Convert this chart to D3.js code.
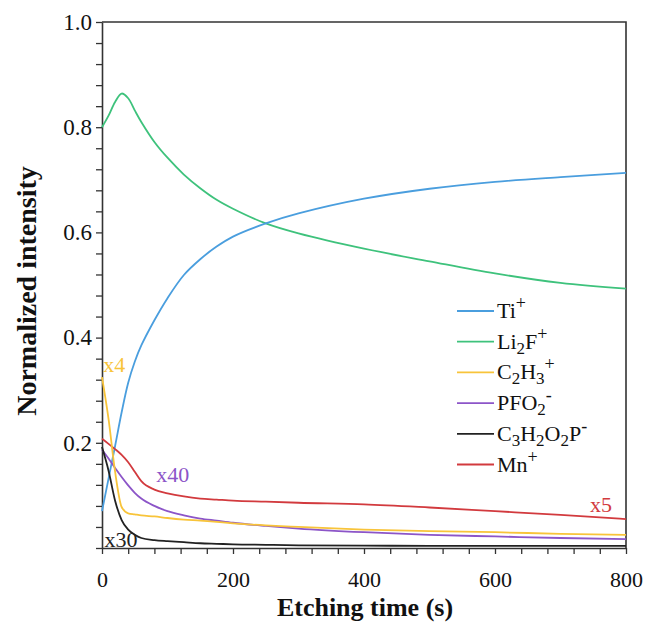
<!DOCTYPE html>
<html>
<head>
<meta charset="utf-8">
<script src="https://cdn.jsdelivr.net/npm/d3@7"></script>
<style>
  html, body { margin: 0; padding: 0; background: #fff; }
  svg { display: block; font-family: "Liberation Serif", "Times New Roman", serif; }
  svg text { font-family: "Liberation Serif", "Times New Roman", serif; }
</style>
</head>
<body>
<svg id="chart" width="648" height="626"></svg>
<script>
// ---- data ----
const times = [0, 10, 20, 30, 40, 50, 60, 80, 100, 125, 150, 175, 200, 250, 300, 400, 500, 600, 700, 800];
const tiPlus   = [0.070, 0.132, 0.194, 0.258, 0.314, 0.354, 0.385, 0.433, 0.475, 0.519, 0.549, 0.573, 0.592, 0.617, 0.636, 0.664, 0.683, 0.696, 0.705, 0.713];
const li2fPlus = [0.800, 0.822, 0.848, 0.864, 0.855, 0.832, 0.810, 0.772, 0.742, 0.710, 0.684, 0.662, 0.645, 0.617, 0.598, 0.569, 0.545, 0.522, 0.504, 0.493];
const c2h3Plus = [0.325, 0.245, 0.145, 0.078, 0.066, 0.064, 0.062, 0.060, 0.057, 0.054, 0.052, 0.0495, 0.047, 0.043, 0.040, 0.035, 0.032, 0.030, 0.027, 0.025];
const pfo2Minus = [0.187, 0.170, 0.152, 0.135, 0.119, 0.105, 0.094, 0.080, 0.070, 0.062, 0.056, 0.052, 0.048, 0.042, 0.037, 0.030, 0.025, 0.022, 0.019, 0.017];
const c3h2o2pMinus = [0.192, 0.147, 0.090, 0.053, 0.035, 0.025, 0.019, 0.015, 0.013, 0.011, 0.009, 0.008, 0.007, 0.006, 0.005, 0.0045, 0.004, 0.004, 0.004, 0.004];
const mnPlus   = [0.208, 0.198, 0.188, 0.177, 0.163, 0.145, 0.127, 0.111, 0.104, 0.098, 0.094, 0.092, 0.090, 0.088, 0.086, 0.083, 0.077, 0.070, 0.063, 0.055];

const seriesNames = ["Ti^+", "Li_2F^+", "C_2H_3^+", "PFO_2^-", "C_3H_2O_2P^-", "Mn^+"];
const seriesValues = [tiPlus, li2fPlus, c2h3Plus, pfo2Minus, c3h2o2pMinus, mnPlus];
const seriesColors = ["#4a9ede", "#3ec27c", "#f8c43a", "#8c55c8", "#222222", "#d23a3e"];

const xTickValues = d3.range(0, 801, 40);
const xTickLabels = [0, 200, 400, 600, 800];
const yTickValues = d3.range(0, 25 + 1).map(i => +(i * 0.04).toFixed(2));
const yTickLabels = [0.2, 0.4, 0.6, 0.8, 1.0];

const annotations = [
  { text: "x4",  t: 2,   v: 0.335, color: "#f8c43a" },
  { text: "x40", t: 83,  v: 0.126, color: "#8c55c8" },
  { text: "x30", t: 4,   v: 0.002, color: "#222222" },
  { text: "x5",  t: 745, v: 0.069, color: "#d23a3e" }
];

// ---- layout ----
const FONT = "'Liberation Serif', 'Times New Roman', serif";
const svg = d3.select("#chart");
const x = d3.scaleLinear().domain([0, 800]).range([102, 626]);
const y = d3.scaleLinear().domain([0, 1]).range([548, 22]);

// frame (top & right)
svg.append("path")
  .attr("d", `M${x(0)},${y(1)}H${x(800)}V${y(0)}`)
  .attr("fill", "none").attr("stroke", "#333").attr("stroke-width", 1.6);

// axes
const xAxis = d3.axisBottom(x)
  .tickValues(xTickValues)
  .tickSize(6).tickSizeOuter(0).tickPadding(17)
  .tickFormat(d => xTickLabels.includes(d) ? d3.format("d")(d) : "");
const gx = svg.append("g").attr("transform", `translate(0,${y(0)})`).call(xAxis);

const yAxis = d3.axisLeft(y)
  .tickValues(yTickValues)
  .tickSize(6).tickSizeOuter(0).tickPadding(4)
  .tickFormat(d => yTickLabels.some(l => Math.abs(l - d) < 1e-6) ? d3.format(".1f")(d) : "");
const gy = svg.append("g").attr("transform", `translate(${x(0)},0)`).call(yAxis);

[[gx, 22], [gy, 23]].forEach(([g, fs]) => {
  g.attr("font-family", FONT).attr("font-size", fs);
  g.selectAll(".domain").attr("stroke", "#333").attr("stroke-width", 1.6);
  g.selectAll(".tick line").attr("stroke", "#333").attr("stroke-width", 1.3);
  g.selectAll(".tick text")
    .attr("fill", "#111")
    .style("font-family", FONT)
    .style("font-size", fs + "px");
});

// axis titles
svg.append("text")
  .attr("x", 365).attr("y", 616)
  .attr("text-anchor", "middle")
  .style("font-family", FONT)
  .style("font-weight", "bold").style("font-size", "26px").attr("fill", "#111")
  .text("Etching time (s)");

svg.append("text")
  .attr("transform", "translate(36,291) rotate(-90)")
  .attr("text-anchor", "middle")
  .style("font-family", FONT)
  .style("font-weight", "bold").style("font-size", "28px").attr("fill", "#111")
  .text("Normalized intensity");

// lines
const smoothLine = d3.line()
  .x(d => x(d[0]))
  .y(d => y(d[1]))
  .curve(d3.curveCatmullRom.alpha(0.5));
const kneeLine = d3.line()
  .x(d => x(d[0]))
  .y(d => y(d[1]))
  .curve(d3.curveMonotoneX);

const drawOrder = [1, 0, 5, 3, 2, 4];
drawOrder.forEach(i => {
  const pts = times.map((t, k) => [t, seriesValues[i][k]]);
  svg.append("path")
    .datum(pts)
    .attr("d", (i === 0 || i === 1) ? smoothLine : kneeLine)
    .attr("fill", "none")
    .attr("stroke", seriesColors[i])
    .attr("stroke-width", 1.8)
    .attr("stroke-linejoin", "round");
});

// annotations
annotations.forEach(a => {
  svg.append("text")
    .attr("x", x(a.t)).attr("y", y(a.v))
    .style("font-family", FONT)
    .style("font-size", "22px")
    .attr("fill", a.color)
    .text(a.text);
});

// legend
function addRichText(sel, label) {
  const re = /([_^])(.)|([^_^]+)/g;
  let m, shift = 0;
  while ((m = re.exec(label)) !== null) {
    if (m[3]) {
      sel.append("tspan").attr("dy", -shift).style("font-size", "22px").text(m[3]);
      shift = 0;
    } else if (m[1] === "_") {
      const s = 5;
      sel.append("tspan").attr("dy", s - shift).style("font-size", "17px").text(m[2]);
      shift = s;
    } else {
      const s = -9;
      sel.append("tspan").attr("dy", s - shift).style("font-size", "18px").text(m[2]);
      shift = s;
    }
  }
}

seriesNames.forEach((name, i) => {
  const base = 318 + i * 30.7;
  svg.append("line")
    .attr("x1", 457).attr("x2", 494)
    .attr("y1", base - 7).attr("y2", base - 7)
    .attr("stroke", seriesColors[i]).attr("stroke-width", 1.8);
  const t = svg.append("text")
    .attr("x", 497).attr("y", base)
    .style("font-family", FONT)
    .attr("fill", "#111");
  addRichText(t, name);
});
</script>
</body>
</html>
